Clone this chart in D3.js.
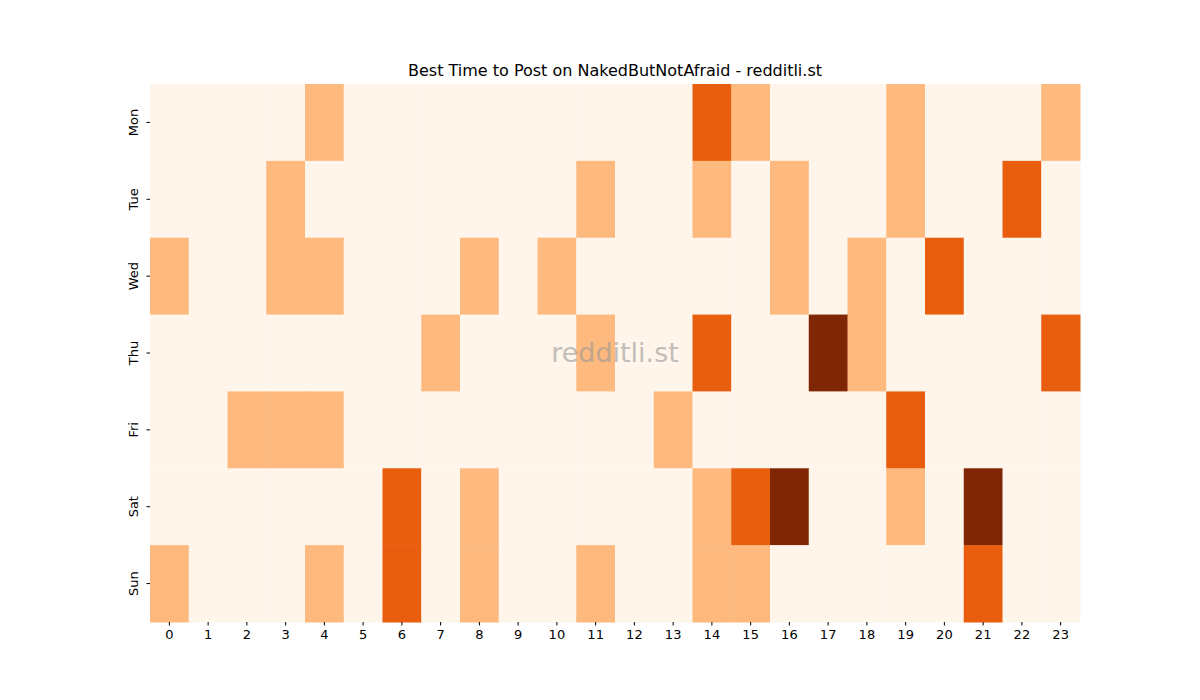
<!DOCTYPE html>
<html><head><meta charset="utf-8">
<script src="https://cdn.jsdelivr.net/npm/d3@7"></script>
<style>body{margin:0;background:#fff}text{font-family:"DejaVu Sans",sans-serif}</style>
</head><body><svg id="c" width="1200" height="700"></svg>
<script>
const days = ["Mon","Tue","Wed","Thu","Fri","Sat","Sun"];
const hours = d3.range(24).map(String);
const mon = [0,0,0,0,1,0,0,0,0,0,0,0,0,0,2,1,0,0,0,1,0,0,0,1];
const tue = [0,0,0,1,0,0,0,0,0,0,0,1,0,0,1,0,1,0,0,1,0,0,2,0];
const wed = [1,0,0,1,1,0,0,0,1,0,1,0,0,0,0,0,1,0,1,0,2,0,0,0];
const thu = [0,0,0,0,0,0,0,1,0,0,0,1,0,0,2,0,0,3,1,0,0,0,0,2];
const fri = [0,0,1,1,1,0,0,0,0,0,0,0,0,1,0,0,0,0,0,2,0,0,0,0];
const sat = [0,0,0,0,0,0,2,0,1,0,0,0,0,0,1,2,3,0,0,1,0,3,0,0];
const sun = [1,0,0,0,1,0,2,0,1,0,0,1,0,0,1,1,0,0,0,0,0,2,0,0];
const rows = [mon,tue,wed,thu,fri,sat,sun];
const title = "Best Time to Post on NakedButNotAfraid - redditli.st";

const svg = d3.select("#c");
const L=150,R=1080,T=84,B=622;
const x = d3.scaleBand().domain(hours).range([L,R]);
const y = d3.scaleBand().domain(days).range([T,B]);
const color = d3.scaleSequential(d3.interpolateOranges).domain([0,3]);
const cells = [];
rows.forEach((r,i)=>r.forEach((v,j)=>cells.push({d:days[i],h:hours[j],v})));
svg.selectAll("rect.c").data(cells).join("rect")
  .attr("x",d=>x(d.h)).attr("y",d=>y(d.d))
  .attr("width",x.bandwidth()+0.5).attr("height",y.bandwidth()+0.5)
  .attr("fill",d=>color(d.v));
const xa = svg.append("g").attr("transform",`translate(0,${B})`).call(d3.axisBottom(x).tickSize(3.5).tickPadding(4));
const ya = svg.append("g").attr("transform",`translate(${L},0)`).call(d3.axisLeft(y).tickSize(3.5).tickPadding(4));
[xa,ya].forEach(a=>{a.select(".domain").remove();a.selectAll("text").attr("font-size",13).attr("fill","#000").attr("font-family","DejaVu Sans");});
ya.selectAll(".tick text").attr("transform","rotate(-90)").attr("text-anchor","middle").attr("x",0).attr("y",-12).attr("dy","0");
svg.append("text").attr("x",615).attr("y",76).attr("text-anchor","middle").attr("font-size",16).text(title);
svg.append("text").attr("x",615).attr("y",362).attr("text-anchor","middle").attr("font-size",27).attr("fill","#999").attr("opacity",0.6).text("redditli.st");
</script></body></html>
